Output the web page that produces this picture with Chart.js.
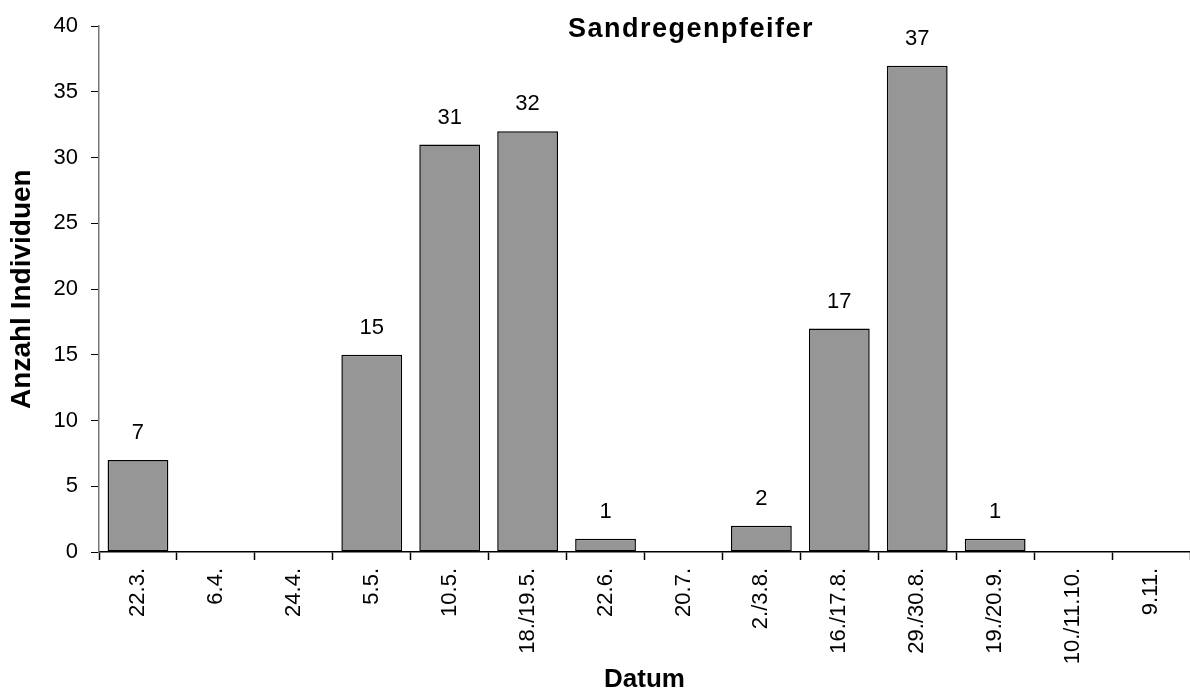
<!DOCTYPE html>
<html>
<head>
<meta charset="utf-8">
<script src="https://cdn.jsdelivr.net/npm/chart.js@4/dist/chart.umd.min.js"></script>
<style>
  html, body { margin: 0; padding: 0; background: #fff; }
  canvas { display: block; }
</style>
</head>
<body>
<canvas id="birdChart" width="1190" height="693"></canvas>
<script>
const chartTitle = 'Sandregenpfeifer';
const dates = ['22.3.', '6.4.', '24.4.', '5.5.', '10.5.', '18./19.5.', '22.6.', '20.7.',
    '2./3.8.', '16./17.8.', '29./30.8.', '19./20.9.', '10./11.10.', '9.11.'];
const counts = [7, 0, 0, 15, 31, 32, 1, 0, 2, 17, 37, 1, 0, 0];
const yTitle = 'Anzahl Individuen';
const xTitle = 'Datum';

const fontFamily = "'Liberation Sans', Arial, sans-serif";

// value labels above the bars
const barLabels = {
    id: 'barLabels',
    afterDatasetsDraw(chart) {
        const ctx = chart.ctx;
        const meta = chart.getDatasetMeta(0);
        ctx.save();
        ctx.font = '22px ' + fontFamily;
        ctx.fillStyle = '#000';
        ctx.textAlign = 'center';
        ctx.textBaseline = 'middle';
        meta.data.forEach((bar, i) => {
            const v = counts[i];
            if (!v) return;
            ctx.fillText(String(v), bar.x, bar.y - 27);
        });
        ctx.restore();
    }
};

// title sits inside the plot area, like the original
const innerTitle = {
    id: 'innerTitle',
    afterDraw(chart) {
        const ctx = chart.ctx;
        ctx.save();
        ctx.font = 'bold 27px ' + fontFamily;
        if ('letterSpacing' in ctx) ctx.letterSpacing = '1.5px';
        ctx.fillStyle = '#000';
        ctx.textAlign = 'center';
        ctx.textBaseline = 'alphabetic';
        ctx.fillText(chartTitle, 691, 37);
        ctx.restore();
    }
};

const ctx = document.getElementById('birdChart').getContext('2d');

new Chart(ctx, {
    type: 'bar',
    data: {
        labels: dates,
        datasets: [{
            data: counts,
            backgroundColor: '#969696',
            borderColor: '#000',
            borderWidth: c => (c.raw > 0 ? 1.5 : 0),
            borderSkipped: false,
            categoryPercentage: 1,
            barPercentage: 0.78
        }]
    },
    options: {
        responsive: false,
        animation: false,
        layout: { padding: { top: 26, left: 0, right: 0, bottom: 0 } },
        plugins: {
            legend: { display: false },
            tooltip: { enabled: false },
            title: { display: false }
        },
        scales: {
            x: {
                offset: true,
                grid: {
                    offset: true,
                    drawOnChartArea: false,
                    tickLength: 8,
                    tickColor: '#000',
                    tickWidth: 1.5
                },
                border: { color: '#000', width: 1.5 },
                ticks: {
                    autoSkip: false,
                    minRotation: 90,
                    maxRotation: 90,
                    padding: 8,
                    color: '#000',
                    font: { family: fontFamily, size: 22 }
                },
                title: {
                    display: true,
                    text: xTitle,
                    color: '#000',
                    font: { family: fontFamily, size: 26, weight: 'bold', lineHeight: 1 },
                    padding: { top: 0, bottom: 0 }
                },
                afterFit(scale) {
                    scale.height = 141;
                    scale.paddingLeft = 0;
                    scale.paddingRight = 0;
                }
            },
            y: {
                min: 0,
                max: 40,
                ticks: {
                    stepSize: 5,
                    padding: 13,
                    color: '#000',
                    font: { family: fontFamily, size: 22 }
                },
                grid: {
                    drawOnChartArea: false,
                    tickLength: 8,
                    tickColor: '#000'
                },
                border: { color: '#777', width: 1.5 },
                title: {
                    display: true,
                    text: yTitle,
                    color: '#000',
                    font: { family: fontFamily, size: 28, weight: 'bold', lineHeight: 1 },
                    padding: { top: 8, bottom: 0 }
                },
                afterFit(scale) {
                    scale.width = 99;
                }
            }
        }
    },
    plugins: [barLabels, innerTitle]
});
</script>
</body>
</html>
